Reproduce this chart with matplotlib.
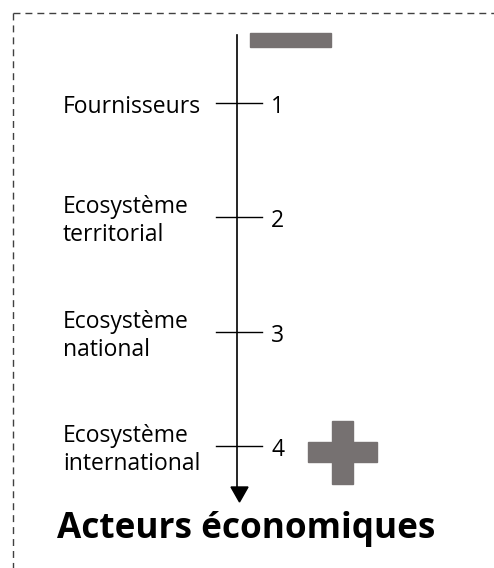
import matplotlib.pyplot as plt
from matplotlib.patches import Rectangle, Polygon

# data
levels = [1, 2, 3, 4]
labels = ["Fournisseurs", "Ecosystème\nterritorial", "Ecosystème\nnational", "Ecosystème\ninternational"]
title = "Acteurs économiques"

GREY = "#767171"
FONT = "Open Sans"

fig = plt.figure(figsize=(4.94, 5.68), dpi=100)
ax = fig.add_axes([0, 0, 1, 1])
ax.set_xlim(0, 494)
ax.set_ylim(568, 0)
ax.axis("off")


def lvl_y(l):
    # level -> pixel row
    return 103 + (l - 1) * 114.3


# dashed frame (top + left)
ax.plot([13, 494], [13, 13], color="#404040", lw=1, ls=(0, (5, 3.6)))
ax.plot([13, 13], [13, 568], color="#404040", lw=1, ls=(0, (5, 3.6)))

# main arrow
ax.plot([237, 237], [35, 490], color="black", lw=1.2)
ax.add_patch(Polygon([[231, 487], [248, 487], [239.5, 502]], closed=True, color="black"))

for lv, lab in zip(levels, labels):
    y = lvl_y(lv)
    ax.plot([216, 262], [y, y], color="black", lw=1)
    ax.text(271, y + 10, str(lv), fontsize=16.5, family=FONT, va="baseline", ha="left")
    lines = lab.split("\n")
    for i, line in enumerate(lines):
        base = y + 10 - (len(lines) - 1) * 14 + i * 28
        ax.text(63, base, line, fontsize=16.5, family=FONT, va="baseline", ha="left")

# minus / plus signs
ax.add_patch(Rectangle((250, 33), 81, 14, color=GREY))
ax.add_patch(Rectangle((308, 442), 69, 20, color=GREY))
ax.add_patch(Rectangle((332, 421), 21, 63, color=GREY))

ax.text(57, 538, title, fontsize=25.3, fontweight="bold", family=FONT, va="baseline", ha="left")

fig.savefig("out.png", dpi=100)
